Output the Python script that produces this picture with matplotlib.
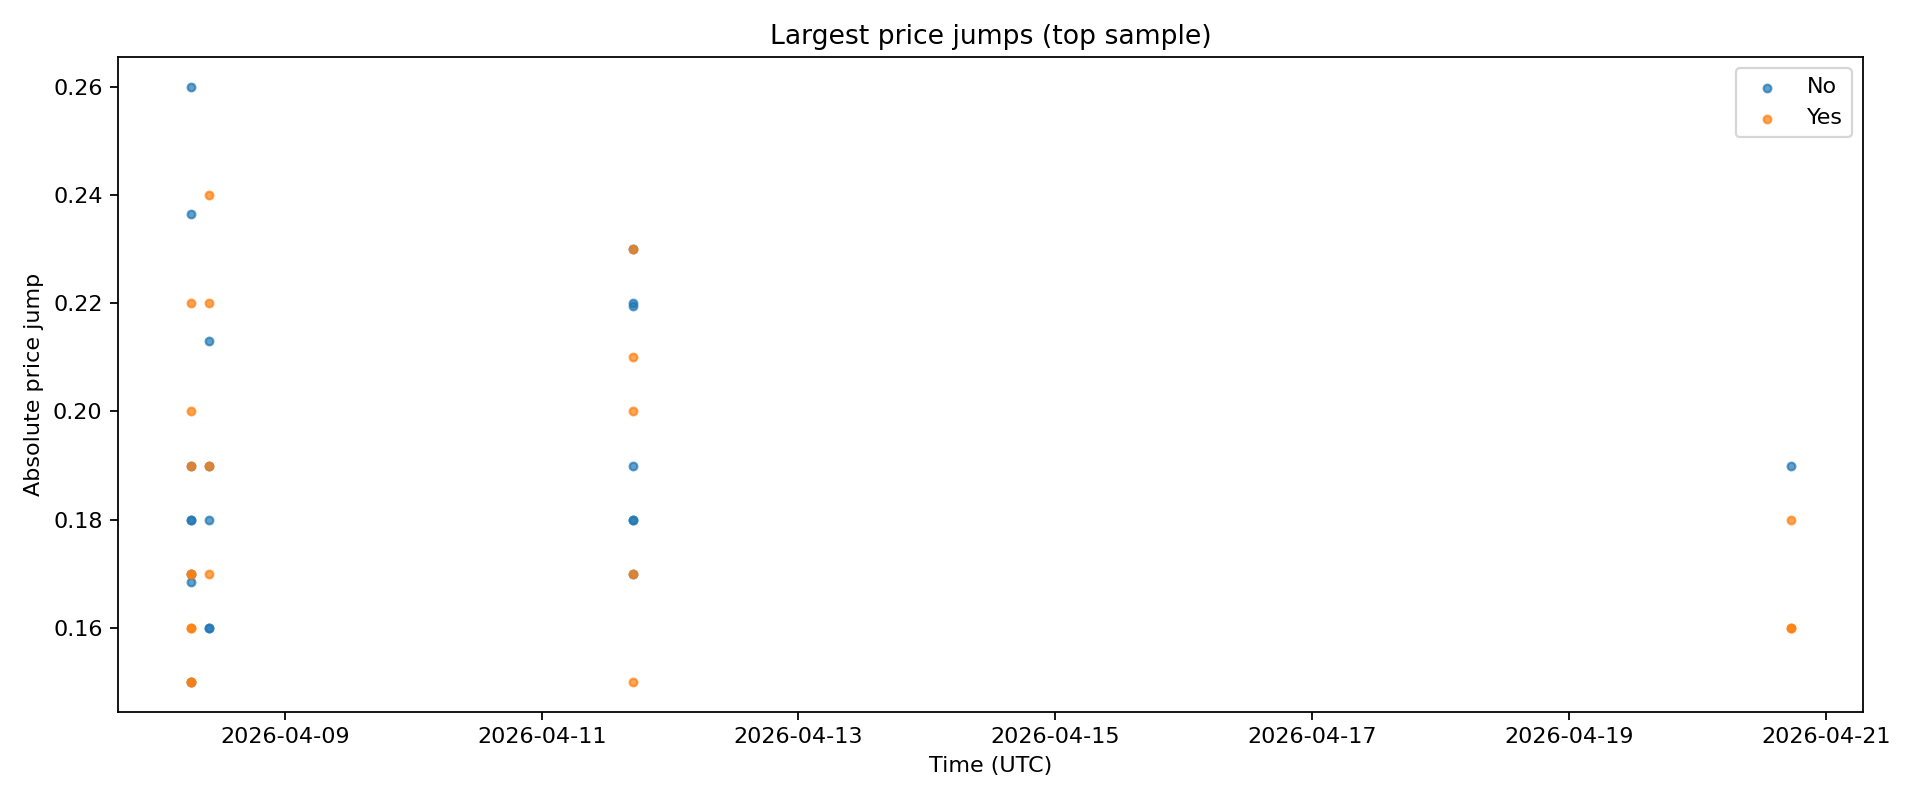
import matplotlib
matplotlib.use("Agg")
import matplotlib.pyplot as plt
import matplotlib.dates as mdates
import pandas as pd

no_times = ["2026-04-08 06:30"]*8 + ["2026-04-08 09:53"]*5 + ["2026-04-11 17:03"]*7 + ["2026-04-20 17:28"]*1
no_vals = [0.26, 0.2365, 0.19, 0.18, 0.18, 0.17, 0.1685, 0.15,
           0.213, 0.19, 0.18, 0.16, 0.16,
           0.23, 0.22, 0.2195, 0.19, 0.18, 0.18, 0.17,
           0.19]
yes_times = ["2026-04-08 06:30"]*9 + ["2026-04-08 09:53"]*4 + ["2026-04-11 17:03"]*5 + ["2026-04-20 17:28"]*3
yes_vals = [0.22, 0.20, 0.19, 0.17, 0.17, 0.16, 0.16, 0.15, 0.15,
            0.24, 0.22, 0.19, 0.17,
            0.23, 0.21, 0.20, 0.17, 0.15,
            0.18, 0.16, 0.16]

fig, ax = plt.subplots(figsize=(12, 5), dpi=160)
ax.scatter(pd.to_datetime(no_times), no_vals, s=12, alpha=0.7, label="No")
ax.scatter(pd.to_datetime(yes_times), yes_vals, s=12, alpha=0.7, label="Yes")
ax.xaxis.set_major_locator(mdates.DayLocator(bymonthday=range(1, 32, 2)))
ax.xaxis.set_major_formatter(mdates.DateFormatter("%Y-%m-%d"))
ax.set_xlim(pd.Timestamp("2026-04-07 16:50"), pd.Timestamp("2026-04-21 06:56"))
ax.set_title("Largest price jumps (top sample)")
ax.set_xlabel("Time (UTC)")
ax.set_ylabel("Absolute price jump")
ax.legend(loc="upper right")
fig.tight_layout()
fig.savefig("out.png")
